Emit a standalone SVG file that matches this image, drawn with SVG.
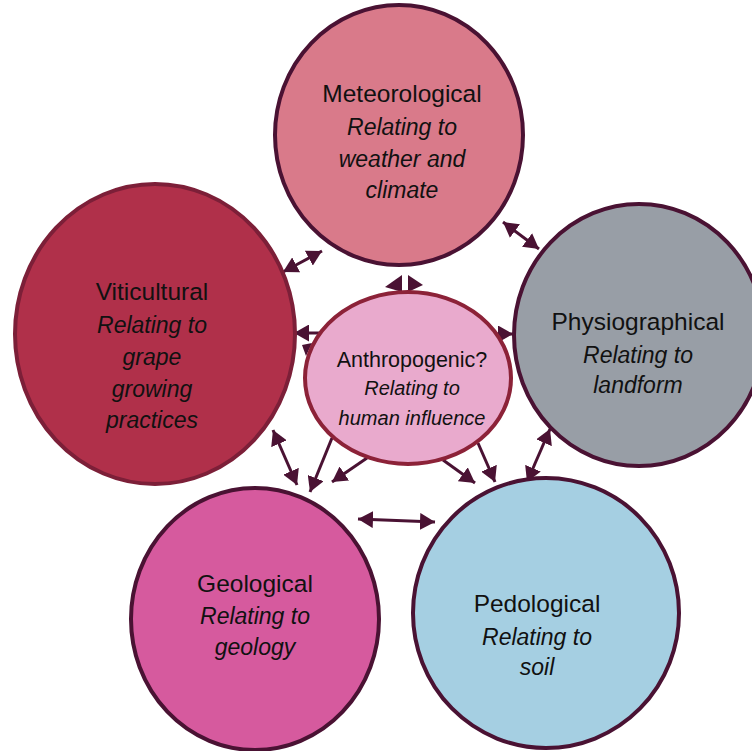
<svg xmlns="http://www.w3.org/2000/svg" width="752" height="751" viewBox="0 0 752 751">
<style>
.t{font-family:"Liberation Sans","DejaVu Sans",sans-serif;font-size:24.5px;fill:#111;text-anchor:middle}
.i{font-style:italic;font-size:23px}
.s{font-size:21.5px}
.si{font-size:20px}
.c{stroke-width:4}
.ln{stroke:#4a1233;stroke-width:3;fill:none}
.hd{fill:#4a1233}
</style>
<defs>
<marker id="ah" viewBox="0 0 15 17" refX="15" refY="8.5" markerWidth="15" markerHeight="17" markerUnits="userSpaceOnUse" orient="auto-start-reverse">
<path d="M0,0 L15,8.5 L0,17 Z" fill="#4a1233"/>
</marker>
</defs>
<rect width="752" height="751" fill="#fff"/>
<g id="connectors">
<line class="ln" x1="283" y1="272" x2="322" y2="251" marker-start="url(#ah)" marker-end="url(#ah)"/>
<line class="ln" x1="503" y1="222" x2="539" y2="249" marker-start="url(#ah)" marker-end="url(#ah)"/>
<polygon class="hd" points="385,287 402,275 402,292"/>
<polygon class="hd" points="408,275 408,292 423,285"/>
<line class="ln" x1="322" y1="333" x2="294" y2="333" marker-end="url(#ah)"/>
<polygon class="hd" points="302,345 312,343 306,356"/>
<line class="ln" x1="490" y1="334" x2="513" y2="334" marker-end="url(#ah)"/>
<line class="ln" x1="273" y1="430" x2="297" y2="485" marker-start="url(#ah)" marker-end="url(#ah)"/>
<line class="ln" x1="332" y1="438" x2="310" y2="492" marker-end="url(#ah)"/>
<line class="ln" x1="367" y1="458" x2="332" y2="482" marker-end="url(#ah)"/>
<line class="ln" x1="443" y1="460" x2="475" y2="483" marker-end="url(#ah)"/>
<line class="ln" x1="478" y1="443" x2="495" y2="482" marker-end="url(#ah)"/>
<line class="ln" x1="358" y1="519" x2="435" y2="522" marker-start="url(#ah)" marker-end="url(#ah)"/>
<line class="ln" x1="550" y1="429" x2="527" y2="482" marker-start="url(#ah)" marker-end="url(#ah)"/>
</g>
<g id="meteorological">
<ellipse class="c" cx="399" cy="135" rx="124" ry="130" fill="#d97a8a" stroke="#4a1233"/>
<text class="t" x="402" y="102">Meteorological</text>
<text class="t i" x="402" y="135">Relating to</text>
<text class="t i" x="402" y="167">weather and</text>
<text class="t i" x="402" y="198">climate</text>
</g>
<g id="viticultural">
<ellipse class="c" cx="155" cy="334" rx="140" ry="150" fill="#b0304a" stroke="#7c1f38"/>
<text class="t" x="152" y="300">Viticultural</text>
<text class="t i" x="152" y="333">Relating to</text>
<text class="t i" x="152" y="365">grape</text>
<text class="t i" x="152" y="397">growing</text>
<text class="t i" x="152" y="428">practices</text>
</g>
<g id="physiographical">
<ellipse class="c" cx="639" cy="335" rx="125" ry="131" fill="#989ea6" stroke="#4a1233"/>
<text class="t" x="638" y="330">Physiographical</text>
<text class="t i" x="638" y="363">Relating to</text>
<text class="t i" x="638" y="393">landform</text>
</g>
<g id="geological">
<ellipse class="c" cx="255" cy="619" rx="124" ry="131" fill="#d65a9e" stroke="#4a1233"/>
<text class="t" x="255" y="592">Geological</text>
<text class="t i" x="255" y="624">Relating to</text>
<text class="t i" x="255" y="655">geology</text>
</g>
<g id="pedological">
<ellipse class="c" cx="546" cy="613" rx="133" ry="135" fill="#a5cfe2" stroke="#4a1233"/>
<text class="t" x="537" y="612">Pedological</text>
<text class="t i" x="537" y="645">Relating to</text>
<text class="t i" x="537" y="675">soil</text>
</g>
<g id="anthropogenic">
<ellipse class="c" cx="408" cy="378" rx="103" ry="86" fill="#e9aacd" stroke="#8c2238"/>
<text class="t s" x="412" y="367">Anthropogenic?</text>
<text class="t i si" x="412" y="395">Relating to</text>
<text class="t i si" x="412" y="425">human influence</text>
</g>
</svg>
